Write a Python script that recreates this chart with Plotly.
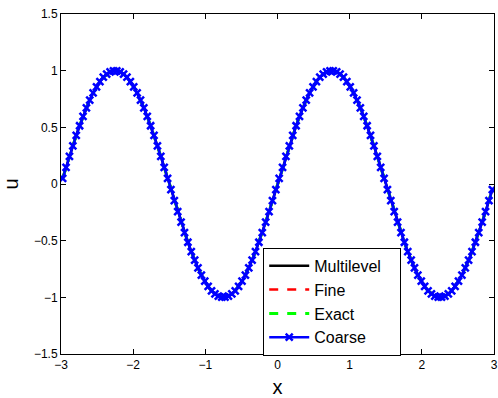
import plotly.graph_objects as go

x_vals = [
    -2.977, -2.930, -2.883, -2.836, -2.789, -2.742, -2.695, -2.648,
    -2.602, -2.555, -2.508, -2.461, -2.414, -2.367, -2.320, -2.273,
    -2.227, -2.180, -2.133, -2.086, -2.039, -1.992, -1.945, -1.898,
    -1.852, -1.805, -1.758, -1.711, -1.664, -1.617, -1.570, -1.523,
    -1.477, -1.430, -1.383, -1.336, -1.289, -1.242, -1.195, -1.148,
    -1.102, -1.055, -1.008, -0.961, -0.914, -0.867, -0.820, -0.773,
    -0.727, -0.680, -0.633, -0.586, -0.539, -0.492, -0.445, -0.398,
    -0.352, -0.305, -0.258, -0.211, -0.164, -0.117, -0.070, -0.023,
    0.023, 0.070, 0.117, 0.164, 0.211, 0.258, 0.305, 0.352,
    0.398, 0.445, 0.492, 0.539, 0.586, 0.633, 0.680, 0.727,
    0.773, 0.820, 0.867, 0.914, 0.961, 1.008, 1.055, 1.102,
    1.148, 1.195, 1.242, 1.289, 1.336, 1.383, 1.430, 1.477,
    1.523, 1.570, 1.617, 1.664, 1.711, 1.758, 1.805, 1.852,
    1.898, 1.945, 1.992, 2.039, 2.086, 2.133, 2.180, 2.227,
    2.273, 2.320, 2.367, 2.414, 2.461, 2.508, 2.555, 2.602,
    2.648, 2.695, 2.742, 2.789, 2.836, 2.883, 2.930, 2.977,
]

u_coarse = [
    0.049, 0.147, 0.243, 0.337, 0.428, 0.514, 0.596, 0.672,
    0.741, 0.803, 0.858, 0.904, 0.942, 0.970, 0.989, 0.999,
    0.999, 0.989, 0.970, 0.942, 0.904, 0.858, 0.803, 0.741,
    0.672, 0.596, 0.514, 0.428, 0.337, 0.243, 0.147, 0.049,
    -0.049, -0.147, -0.243, -0.337, -0.428, -0.514, -0.596, -0.672,
    -0.741, -0.803, -0.858, -0.904, -0.942, -0.970, -0.989, -0.999,
    -0.999, -0.989, -0.970, -0.942, -0.904, -0.858, -0.803, -0.741,
    -0.672, -0.596, -0.514, -0.428, -0.337, -0.243, -0.147, -0.049,
    0.049, 0.147, 0.243, 0.337, 0.428, 0.514, 0.596, 0.672,
    0.741, 0.803, 0.858, 0.904, 0.942, 0.970, 0.989, 0.999,
    0.999, 0.989, 0.970, 0.942, 0.904, 0.858, 0.803, 0.741,
    0.672, 0.596, 0.514, 0.428, 0.337, 0.243, 0.147, 0.049,
    -0.049, -0.147, -0.243, -0.337, -0.428, -0.514, -0.596, -0.672,
    -0.741, -0.803, -0.858, -0.904, -0.942, -0.970, -0.989, -0.999,
    -0.999, -0.989, -0.970, -0.942, -0.904, -0.858, -0.803, -0.741,
    -0.672, -0.596, -0.514, -0.428, -0.337, -0.243, -0.147, -0.049,
]

# the other solutions coincide with the coarse one at plot resolution
u_multilevel = list(u_coarse)
u_fine = list(u_coarse)
u_exact = list(u_coarse)

series_names = ["Multilevel", "Fine", "Exact", "Coarse"]
x_ticks = [-3, -2, -1, 0, 1, 2, 3]
y_ticks = [-1.5, -1, -0.5, 0, 0.5, 1, 1.5]

font = "Liberation Sans, Arial, Helvetica, sans-serif"
NB = "\u00a0"

fig = go.Figure()
fig.add_trace(go.Scatter(x=x_vals, y=u_multilevel, mode="lines",
                         name=series_names[0] + NB * 3,
                         line=dict(color="black", width=2.5)))
fig.add_trace(go.Scatter(x=x_vals, y=u_fine, mode="lines", name=series_names[1],
                         line=dict(color="red", width=2.5, dash="dash")))
fig.add_trace(go.Scatter(x=x_vals, y=u_exact, mode="lines", name=series_names[2],
                         line=dict(color="#00ff00", width=3, dash="dash")))
fig.add_trace(go.Scatter(x=x_vals, y=u_coarse, mode="lines+markers", name=series_names[3],
                         line=dict(color="blue", width=2.5),
                         marker=dict(symbol="x-thin", size=7, color="blue",
                                     line=dict(color="blue", width=2.5))))

axis_common = dict(showline=True, linecolor="black", linewidth=1, mirror="ticks",
                   ticks="inside", ticklen=5, tickcolor="black", showgrid=False,
                   zeroline=False, automargin=False,
                   tickfont=dict(family=font, size=12, color="black"))

fig.update_layout(
    width=498, height=398,
    margin=dict(l=61, r=4, t=14, b=44),
    paper_bgcolor="white", plot_bgcolor="white",
    font=dict(family=font, color="black"),
    xaxis=dict(range=[-3, 3], tickvals=x_ticks,
               ticktext=[str(v).replace("-", "\u2212") for v in x_ticks],
               title=dict(text="x", font=dict(family=font, size=20, color="black"), standoff=9),
               **axis_common),
    yaxis=dict(range=[-1.5, 1.5], tickvals=y_ticks,
               ticktext=[("%g" % v).replace("-", "\u2212") for v in y_ticks],
               title=dict(text="u", font=dict(family=font, size=20, color="black"), standoff=10),
               **axis_common),
    legend=dict(x=0.467, y=0.312, xanchor="left", yanchor="top",
                bgcolor="white", bordercolor="black", borderwidth=1,
                font=dict(family=font, size=16, color="black"),
                tracegroupgap=0, itemwidth=40),
    showlegend=True,
)

fig.write_html("out.html")
